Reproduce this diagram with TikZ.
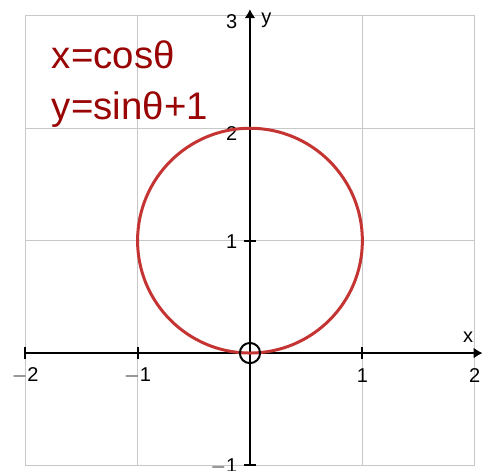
\documentclass[tikz,border=0pt]{standalone}
\usepackage{fontspec}
\setmainfont{Liberation Sans}
\usetikzlibrary{arrows.meta}
\definecolor{gridgray}{RGB}{200,200,200}
\definecolor{curvered}{RGB}{196,52,50}
\definecolor{textred}{RGB}{153,4,4}
\tikzset{
  gridline/.style={draw=gridgray,line width=0.5pt},
  axisline/.style={draw=black,line width=1pt},
  axisarrow/.style={axisline,-{Latex[length=4.5pt,width=5.5pt]}},
  tickmark/.style={draw=black,line width=1pt},
  ticklabel/.style={font=\fontsize{10}{12}\selectfont,inner sep=0pt},
  eqlabel/.style={font=\fontsize{19.2}{22}\selectfont,text=textred,anchor=base west,inner sep=0pt},
  curve/.style={draw=curvered,line width=1.5pt},
}
\begin{document}
\begin{tikzpicture}[x=56.2pt,y=56.2pt]
\useasboundingbox (-2.224,-1.041) rectangle (2.091,3.141);
% grid
\draw[gridline,xstep=56.2pt,ystep=56.2pt] (-2,-1) grid (2,3);
% axes
\coordinate (xl) at (-2,0);
\coordinate (xr) at (2.07,0);
\coordinate (yb) at (0,-1);
\coordinate (yt) at (0,3.06);
\draw[axisarrow] (xl) -- (xr);
\draw[axisarrow] (yb) -- (yt);
% ticks
\foreach \t in {-2,-1,1}{
  \draw[tickmark] (\t,-0.055) -- (\t,0.055);
}
\foreach \t in {-1,1,2}{
  \draw[tickmark] (-0.055,\t) -- (0.055,\t);
}
% tick labels
\node[ticklabel] (lxm2) at (-2,-0.2) {$-$2};
\node[ticklabel] (lxm1) at (-1,-0.2) {$-$1};
\node[ticklabel] (lx1) at (1,-0.2) {1};
\node[ticklabel] (lx2) at (2,-0.2) {2};
\node[ticklabel,anchor=east] (ly3) at (-0.11,2.95) {3};
\node[ticklabel,anchor=east] (ly2) at (-0.11,1.95) {2};
\node[ticklabel,anchor=east] (ly1) at (-0.11,0.99) {1};
\node[ticklabel,anchor=east] (lym1) at (-0.11,-1.01) {$-$1};
\node[ticklabel] (lx) at (1.94,0.14) {x};
\node[ticklabel] (ly) at (0.145,2.96) {y};
% curve
\draw[curve] (0,1) circle (1);
% open point
\draw[line width=1pt] (0,0) circle (0.09);
% equations
\node[eqlabel] (eq1) at (-1.765,2.534) {x=cosθ};
\node[eqlabel] (eq2) at (-1.765,2.074) {y=sinθ+1};
\end{tikzpicture}
\end{document}
